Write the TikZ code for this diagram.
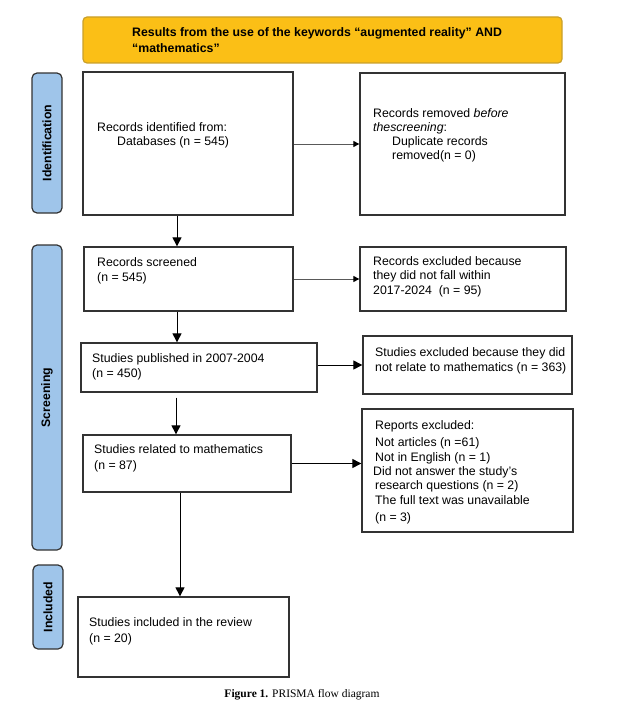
\documentclass[tikz,border=0pt]{standalone}
\usepackage{fontspec}
\setmainfont{Liberation Sans}
\newfontfamily\capfont{Liberation Serif}
\usetikzlibrary{arrows.meta}
\definecolor{gold}{HTML}{FBBF16}
\definecolor{goldline}{HTML}{C9A02A}
\definecolor{sideblue}{HTML}{9FC5EA}
\definecolor{boxline}{HTML}{333333}
\tikzset{
  box/.style={draw=boxline, line width=1.3pt, fill=white, inner sep=0pt},
  sidebar/.style={draw=boxline, line width=1.2pt, fill=sideblue, rounded corners=5pt, minimum width=30pt, inner sep=0pt},
  sidelabel/.style={rotate=90, font=\bfseries\fontsize{12.3}{14}\selectfont},
  txt/.style={anchor=north west, inner sep=0pt, align=left, font=\fontsize{12.3}{14.5}\selectfont},
  arr/.style={draw=black, line width=1pt, -{Triangle[length=9pt,width=9pt]}},
  sarr/.style={draw=black!65, line width=1pt, -{Triangle[length=6pt,width=6pt,fill=black,color=black]}},
}
\begin{document}
\begin{tikzpicture}[x=1pt,y=-1pt]
\useasboundingbox (0,0) rectangle (633,709);
% banner
\node[draw=goldline, line width=1.2pt, fill=gold, rounded corners=4pt, minimum width=479pt, minimum height=46pt, inner sep=0pt] (banner) at (322.5,40) {};
\node[txt, font=\bfseries\fontsize{12.3}{16}\selectfont] (bannertxt) at (132,27) {Results from the use of the keywords “augmented reality” AND\\“mathematics”};
% side bars
\node[sidebar, minimum height=140pt] (idbar) at (47,143) {};
\node[sidelabel] (idlbl) at (idbar.center) {Identification};
\node[sidebar, minimum height=305pt] (scrbar) at (47,397.5) {};
\node[sidelabel] (scrlbl) at (scrbar.center) {Screening};
\node[sidebar, minimum height=84pt] (incbar) at (48,607) {};
\node[sidelabel] (inclbl) at (incbar.center) {Included};
% boxes
\node[box, minimum width=210pt, minimum height=143pt] (b1) at (188,143.5) {};
\node[txt] (b1t) at (97,122) {Records identified from:\\\hspace{20pt}Databases (n = 545)};
\node[box, minimum width=205pt, minimum height=142pt] (rem) at (462.5,144) {};
\node[txt, font=\fontsize{12.3}{14}\selectfont] (remt) at (373,108) {Records removed \textit{before}\\\textit{thescreening}:\\\hspace{19pt}Duplicate records\\\hspace{19pt}removed(n = 0)};
\node[box, minimum width=209pt, minimum height=64pt] (scr) at (188.5,279) {};
\node[txt, font=\fontsize{12.3}{15}\selectfont] (scrt) at (97,257) {Records screened\\(n = 545)};
\node[box, minimum width=206pt, minimum height=64pt] (exc1) at (463,279) {};
\node[txt] (exc1t) at (373,256) {Records excluded because\\they did not fall within\\2017-2024~ (n = 95)};
\node[box, minimum width=236pt, minimum height=49pt] (pub) at (199,367.5) {};
\node[txt, font=\fontsize{12.3}{15}\selectfont] (pubt) at (92,353) {Studies published in 2007-2004\\(n = 450)};
\node[box, minimum width=209pt, minimum height=58pt] (exc2) at (467.5,365) {};
\node[txt, font=\fontsize{12.3}{15}\selectfont] (exc2t) at (375,347) {Studies excluded because they did\\not relate to mathematics (n = 363)};
\node[box, minimum width=208pt, minimum height=57pt] (rel) at (187,463.5) {};
\node[txt, font=\fontsize{12.3}{16}\selectfont] (relt) at (94,444) {Studies related to mathematics\\(n = 87)};
\node[box, minimum width=211pt, minimum height=123pt] (rep) at (467.5,470.5) {};
\node[txt, font=\fontsize{12.3}{14.3}\selectfont] (rept) at (375,420) {Reports excluded:\\[3.5pt]Not articles (n =61)\\Not in English (n = 1)\\\hspace{-2pt}Did not answer the study’s\\research questions (n = 2)\\The full text was unavailable\\[3.5pt](n = 3)};
\node[box, minimum width=211pt, minimum height=80pt] (inc) at (183.5,637) {};
\node[txt, font=\fontsize{12.3}{16}\selectfont] (inct) at (89,617) {Studies included in the review\\(n = 20)};
% connectors
\draw[sarr] (b1.east |- rem.west) -- (rem.west);
\draw[arr] (b1.south -| 177,0) -- (scr.north -| 177,0);
\draw[sarr] (scr.east) -- (exc1.west);
\draw[arr] (scr.south -| 177,0) -- (pub.north -| 177,0);
\draw[arr] (pub.east |- exc2.west) -- (exc2.west);
\draw[arr, shorten <=5pt] (pub.south -| 176,0) -- (rel.north -| 176,0);
\draw[arr] (rel.east) -- (rel.east -| rep.west);
\draw[arr] (rel.south -| 180,0) -- (inc.north -| 180,0);
% caption
\node[inner sep=0pt, anchor=base, font=\capfont\fontsize{11.5}{13}\selectfont] (caption) at (302,697) {\textbf{Figure 1.} PRISMA flow diagram};
\end{tikzpicture}
\end{document}
